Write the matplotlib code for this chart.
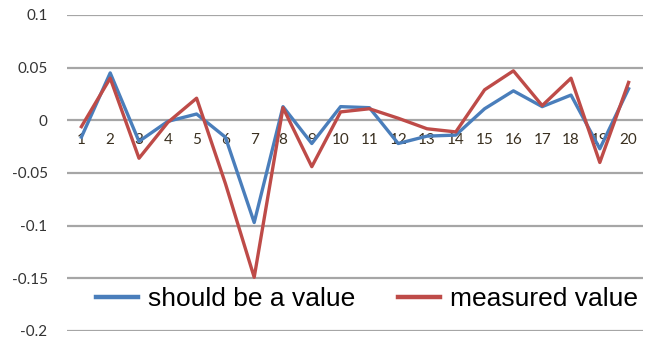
import matplotlib
matplotlib.use("Agg")
import matplotlib.pyplot as plt

categories = [str(i) for i in range(1, 21)]
should_be = [-0.016, 0.045, -0.020, -0.001, 0.006, -0.016, -0.097, 0.013, -0.022, 0.013,
             0.012, -0.022, -0.015, -0.014, 0.011, 0.028, 0.013, 0.024, -0.027, 0.030]
measured = [-0.006, 0.040, -0.036, -0.002, 0.021, -0.060, -0.149, 0.012, -0.044, 0.008,
            0.011, 0.002, -0.008, -0.011, 0.029, 0.047, 0.014, 0.040, -0.040, 0.036]
yticks = [0.1, 0.05, 0, -0.05, -0.1, -0.15, -0.2]
ytick_labels = ["0.1", "0.05", "0", "-0.05", "-0.1", "-0.15", "-0.2"]

W, H = 651, 340
fig = plt.figure(figsize=(W / 100, H / 100), dpi=100)
ax = fig.add_axes([67 / W, 1 - 331 / H, (643 - 67) / W, (331 - 15) / H])

x = list(range(1, len(categories) + 1))
blue = "#4A7EBB"
red = "#BE4B48"
ax.plot(x, should_be, color=blue, lw=2.4, label="should be a value", zorder=3)
ax.plot(x, measured, color=red, lw=2.4, label="measured value", zorder=3)

ax.set_xlim(0.5, len(categories) + 0.5)
ax.set_ylim(-0.2, 0.1)
ax.set_yticks(yticks)
ax.set_yticklabels(ytick_labels)
ax.yaxis.grid(True, color="#A6A6A6", lw=1.6)
ax.set_axisbelow(True)

for s in ["top", "right", "left"]:
    ax.spines[s].set_visible(False)
ax.spines["bottom"].set_position(("data", 0))
ax.spines["bottom"].set_visible(False)
ax.set_xticks(x)
ax.set_xticklabels(categories)
ax.tick_params(axis="x", length=0, pad=9, labelsize=11, labelcolor="#3a3020")
ax.tick_params(axis="y", length=0, pad=14, labelsize=11, labelcolor="#333333")
for lab in ax.get_xticklabels() + ax.get_yticklabels():
    lab.set_fontfamily("Lato")

leg = fig.legend(loc="center left", bbox_to_anchor=(80 / W, 1 - 299 / H), ncol=2,
                 frameon=True, fancybox=False, framealpha=1, facecolor="white",
                 edgecolor="none", prop={"family": "Liberation Sans", "size": 19},
                 handlelength=1.6, handletextpad=0.38, columnspacing=1.6,
                 borderpad=0.1)
for line in leg.get_lines():
    line.set_linewidth(3.2)

fig.savefig("out.png", dpi=100)
